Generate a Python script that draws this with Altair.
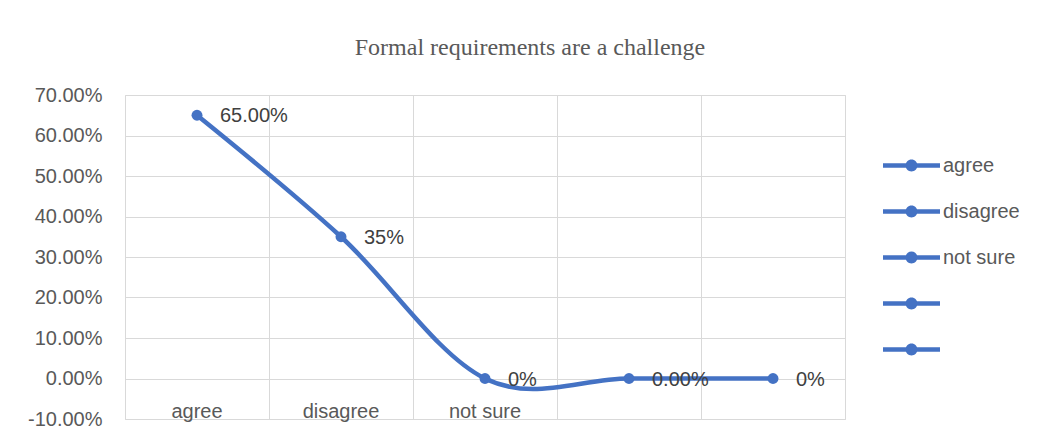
import altair as alt
import pandas as pd

categories = ["agree", "disagree", "not sure", " ", "  "]
values = [0.65, 0.35, 0.0, 0.0, 0.0]
value_labels = ["65.00%", "35%", "0%", "0.00%", "0%"]
y_ticks = [-0.1, 0.0, 0.1, 0.2, 0.3, 0.4, 0.5, 0.6, 0.7]

df = pd.DataFrame({"cat": categories, "val": values, "lab": value_labels})

BLUE = "#4472C4"
TXT = "#595959"
GRID = "#D9D9D9"
FONT = "Liberation Sans"
FS = 20

xscale = alt.Scale(domain=categories, paddingInner=0, paddingOuter=0)
yscale = alt.Scale(domain=[-0.1, 0.7], nice=False, zero=False)
yaxis = alt.Axis(values=y_ticks, format=".2%", grid=True, gridColor=GRID,
                 labelExpr="replace(datum.label, '\u2212', '-')",
                 domain=False, ticks=False, labelPadding=23,
                 labelFont=FONT, labelFontSize=FS, labelColor=TXT, title=None)

base = alt.Chart(df)

line = base.mark_line(color=BLUE, strokeWidth=4.5, interpolate="cardinal").encode(
    x=alt.X("cat:N", scale=xscale, sort=categories,
            axis=alt.Axis(orient="top", labels=False, ticks=False, domain=False,
                          grid=True, tickBand="extent", gridColor=GRID, title=None)),
    y=alt.Y("val:Q", scale=yscale, axis=yaxis),
)

legend_path = ("M-1,-0.075H1V0.075H-1Z "
               "M0.21,0A0.21,0.21 0 1,1 -0.21,0A0.21,0.21 0 1,1 0.21,0Z")

points = base.mark_point(filled=True, size=120, opacity=1).encode(
    x=alt.X("cat:N", scale=xscale, sort=categories,
            axis=alt.Axis(orient="bottom", offset=-18, grid=False, ticks=False, domain=False,
                          labelPadding=0, labelBaseline="top", labelAngle=0,
                          labelFont=FONT, labelFontSize=FS, labelColor=TXT, title=None)),
    y=alt.Y("val:Q", scale=yscale, axis=yaxis),
    color=alt.Color("cat:N", scale=alt.Scale(domain=categories, range=[BLUE] * 5),
                    sort=categories,
                    legend=alt.Legend(title=None, orient="none", legendX=758, legendY=42,
                                      symbolType=legend_path, symbolSize=3249,
                                      symbolStrokeWidth=0, rowPadding=7, padding=0,
                                      labelOffset=3, symbolOffset=0,
                                      labelFont=FONT, labelFontSize=FS, labelColor=TXT)),
)

labels = base.mark_text(align="left", baseline="middle", dx=23, dy=1, font=FONT,
                        fontSize=FS, color="#404040").encode(
    x=alt.X("cat:N", scale=xscale, sort=categories, axis=None),
    y=alt.Y("val:Q", scale=yscale, axis=yaxis),
    text="lab:N",
)

chart = alt.layer(line, points, labels).resolve_scale(x="shared").resolve_axis(
    x="independent"
).properties(
    width=720,
    height=324,
    autosize=alt.AutoSizeParams(type="none"),
    padding={"left": 117, "top": 87, "right": 184, "bottom": 15},
    title=alt.TitleParams("Formal requirements are a challenge", font="Liberation Serif",
                          fontSize=24, fontWeight="normal", color=TXT, anchor="middle",
                          dx=45, offset=25),
).configure_view(stroke=None).configure(background="white")

chart.save("out.html", embed_options={"renderer": "svg", "actions": False})
